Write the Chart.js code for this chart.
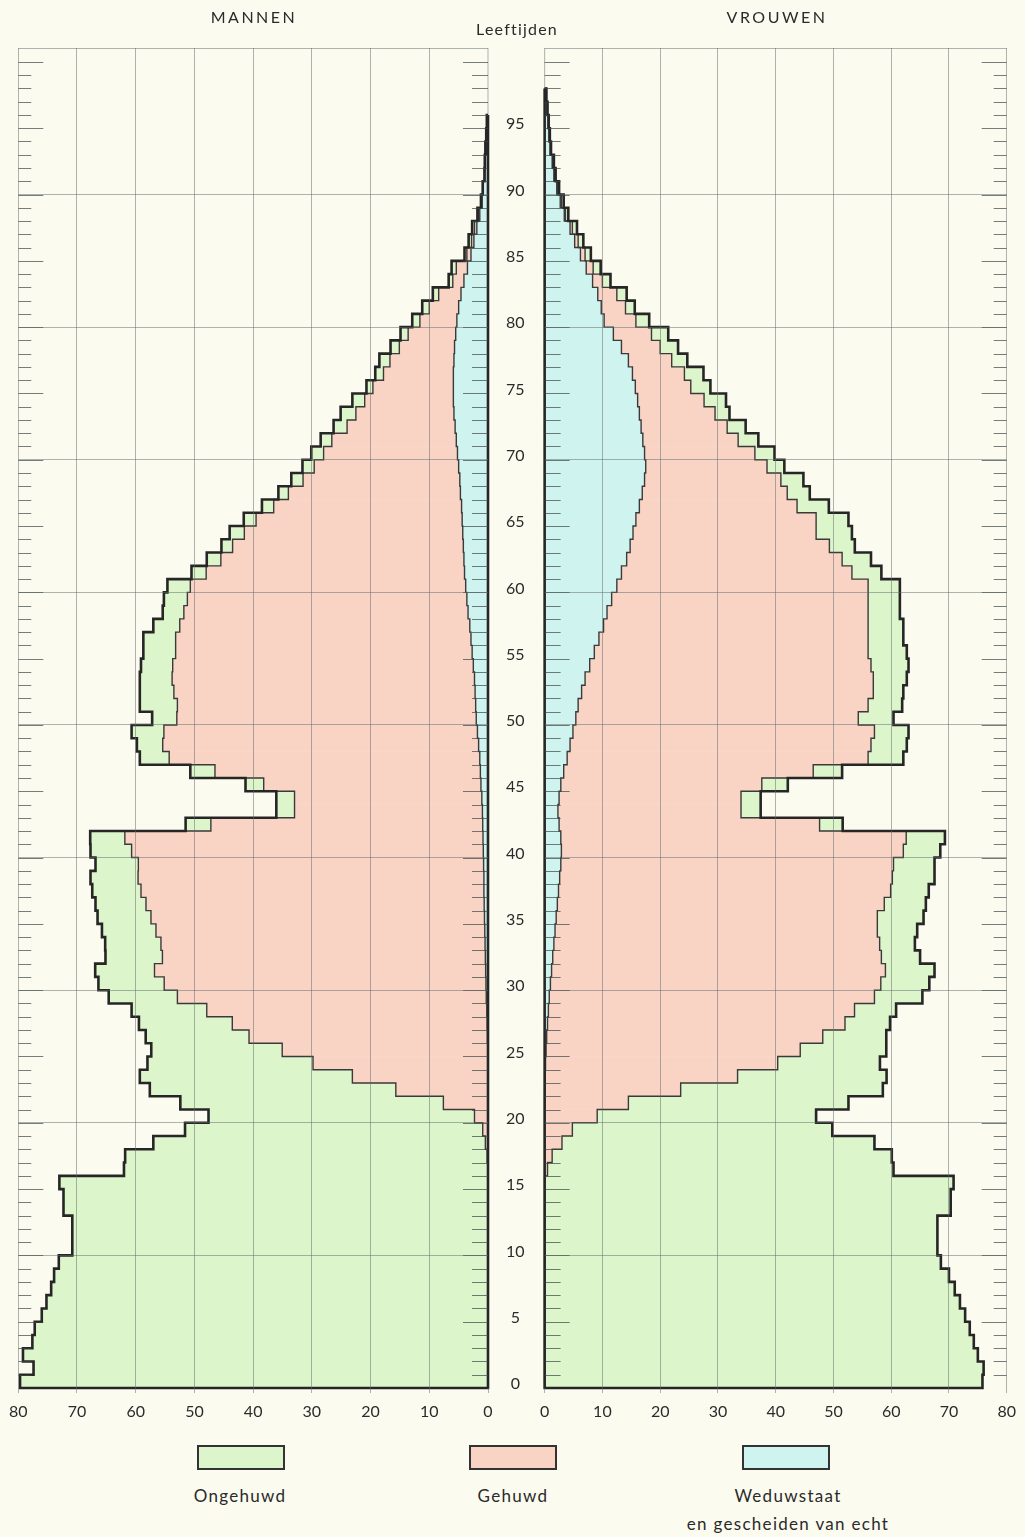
<!DOCTYPE html>
<html><head><meta charset="utf-8">
<script src="https://cdn.jsdelivr.net/npm/chart.js@4.4.1/dist/chart.umd.min.js"></script>
<style>
html,body{margin:0;padding:0;background:#fcfbf0;}
body{width:1025px;height:1537px;position:relative;overflow:hidden;font-family:Lato,'DejaVu Sans',sans-serif;color:#2a2a2a;}
canvas{position:absolute;top:0;}
#cl{left:0;}
#cr{left:531px;}
.t{position:absolute;transform:translateX(-50%);white-space:nowrap;line-height:20px;}
.box{position:absolute;top:1445px;width:88px;height:25px;border:2px solid #333;box-sizing:border-box;}
</style></head><body>
<canvas id="cl" width="541" height="1430"></canvas>
<canvas id="cr" width="494" height="1430"></canvas>
<div class="t" style="left:254px;top:7px;font-size:16px;letter-spacing:2.5px">MANNEN</div>
<div class="t" style="left:777px;top:7px;font-size:16px;letter-spacing:2.5px">VROUWEN</div>
<div class="t" style="left:517px;top:19px;font-size:16px;letter-spacing:1.2px">Leeftijden</div>
<div class="box" style="left:197px;background:#ddf5cb"></div>
<div class="box" style="left:469px;background:#f9d4c5"></div>
<div class="box" style="left:742px;background:#cff3ee"></div>
<div class="t" style="left:240px;top:1486px;font-size:17px;letter-spacing:1.3px">Ongehuwd</div>
<div class="t" style="left:513px;top:1486px;font-size:17px;letter-spacing:1.3px">Gehuwd</div>
<div class="t" style="left:788px;top:1486px;font-size:17px;letter-spacing:1.3px">Weduwstaat</div>
<div class="t" style="left:788px;top:1514px;font-size:17px;letter-spacing:1.3px">en gescheiden van echt</div>
<script>
// ---- data: index = age in years (0,1,2,...) ; values in thousands ----
const tickLabels = [0,5,10,15,20,25,30,35,40,45,50,55,60,65,70,75,80,85,90,95];
const seriesNames = ['Ongehuwd','Gehuwd','Weduwstaat en gescheiden van echt'];

const menSingle = [
 79.7,77.4,79.2,77.6,77.2,76.0,75.2,74.4,73.9,73.1,
 70.8,70.8,70.8,72.3,72.3,73.0,61.95,61.65,56.55,50.7,
 45.3,44.8,41.9,36.2,28.2,22.3,17.6,15.9,12.8,11.7,
 11.2,10.1,9.7,9.5,9.2,9.1,8.6,8.3,8.1,7.3,
 7.0,5.9,4.3,3.1,3.1,3.1,4.2,5.0,4.4,5.5,
 4.2,6.4,5.8,5.5,5.4,5.5,5.5,4.5,3.6,4.0,
 3.9,2.5,2.4,1.9,2.5,2.1,2.0,1.7,2.0,2.0,
 2.1,1.9,2.3,2.6,2.1,1.1,1.4,1.8,1.5,1.3,
 1.3,1.2,1.0,0.7,0.8,0.4,0.5,0.4,0.2,0.1,
 0.05,0,0.05,0.05,0,0];
const menMarried = [
 0,0,0,0,0,0,0,0,0,0,
 0,0,0,0,0,0,0.05,0.15,0.45,0.9,
 2.3,7.6,15.7,23.1,29.8,35.0,40.6,43.4,47.7,52.6,
 54.8,56.4,55.0,55.2,56.0,56.8,57.6,58.4,58.9,58.8,
 59.9,61.0,46.3,32.0,31.9,37.0,45.2,52.9,53.8,53.4,
 51.0,50.8,51.3,51.5,51.2,50.5,50.3,49.4,48.4,47.6,
 46.9,44.0,41.4,39.3,37.2,35.1,32.0,29.3,26.7,24.6,
 22.8,21.2,18.4,16.7,15.1,13.7,11.9,10.9,9.4,8.1,
 6.3,5.0,3.8,1.9,1.9,0.7,0.4,0.4,0.2,0.1,
 0.05,0.05,0.05,0.05,0.05,0];
const menWidowed = [
 0,0,0,0,0,0,0,0,0,0,
 0,0,0,0,0,0,0,0,0,0,
 0,0,0,0,0,0.05,0.1,0.15,0.2,0.3,
 0.35,0.4,0.45,0.5,0.55,0.6,0.65,0.7,0.7,0.75,
 0.8,0.85,0.9,0.95,1.05,1.2,1.3,1.4,1.6,1.8,
 2.0,2.1,2.2,2.3,2.5,2.7,2.9,3.1,3.4,3.6,
 3.8,4.0,4.1,4.2,4.3,4.4,4.5,4.7,4.8,5.0,
 5.2,5.4,5.6,5.8,5.9,5.9,5.9,5.8,5.7,5.5,
 5.3,5.0,4.6,4.1,3.5,2.9,2.4,1.9,1.4,1.0,
 0.8,0.55,0.45,0.35,0.25,0.2];

const womenSingle = [
 75.8,76.0,75.0,74.3,73.6,72.8,71.9,71.0,70.0,68.6,
 68.0,68.0,68.0,70.3,70.3,70.8,59.9,58.8,54.1,45.0,
 37.9,38.1,35.0,25.8,17.7,14.9,11.0,7.8,7.2,8.3,
 8.4,8.5,6.7,6.1,6.9,8.0,7.2,6.6,7.3,7.1,
 6.4,6.7,4.0,3.4,3.4,4.5,5.0,6.1,6.2,5.9,
 6.1,5.9,5.2,5.8,6.5,6.7,6.1,6.1,5.5,5.5,
 5.5,5.1,5.0,4.4,6.2,5.6,5.5,3.9,3.9,3.0,
 3.4,3.5,3.2,2.5,3.8,3.4,3.3,2.7,3.1,2.9,
 2.3,1.6,1.7,1.4,1.3,1.0,0.9,0.8,0.5,0.4,
 0.3,0.2,0.2,0.1,0.1,0.05,0.05,0];
const womenMarried = [
 0,0,0,0,0,0,0,0,0,0,
 0,0,0,0,0,0,0.5,1.3,3.0,4.8,
 9.1,14.5,23.5,33.3,40.2,44.0,47.8,51.5,53.0,56.3,
 57.2,57.8,56.9,56.4,55.8,55.6,56.6,57.5,57.6,57.6,
 59.2,59.8,45.1,31.7,31.5,34.8,43.2,52.1,52.1,52.2,
 48.9,50.2,50.5,49.9,48.7,47.4,46.6,45.8,45.2,44.4,
 43.5,39.9,37.3,34.5,31.7,31.2,27.3,25.1,23.6,21.0,
 19.1,16.5,14.9,13.1,11.5,9.6,9.0,7.5,6.7,6.6,
 5.5,4.2,3.3,1.7,1.2,0.8,0.6,0.4,0.2,0.2,
 0.1,0.1,0.1,0.05,0.05,0.05,0,0];
const womenWidowed = [
 0,0,0,0,0,0,0,0,0,0,
 0,0,0,0,0,0,0,0,0,0,
 0,0,0.05,0.1,0.15,0.25,0.35,0.5,0.65,0.8,
 1.0,1.2,1.4,1.6,1.8,2.0,2.2,2.4,2.6,2.8,
 2.9,2.8,2.5,2.3,2.5,2.8,3.3,3.9,4.4,4.9,
 5.4,5.8,6.4,7.0,7.8,8.6,9.4,10.2,10.8,11.6,
 12.5,13.3,14.2,14.8,15.3,15.8,16.4,16.9,17.3,17.5,
 17.3,17.0,16.7,16.4,16.1,15.7,15.2,14.5,13.3,11.9,
 10.3,9.8,9.2,8.3,7.2,6.2,5.2,4.4,3.4,2.7,
 2.1,1.6,1.3,0.95,0.75,0.6,0.45,0.3];

// ---- styling ----
const FONT = 'Lato';
const GREEN = '#ddf5cb', PINK = '#f9d4c5', BLUE = '#cff3ee';
const GRID = 'rgba(95,105,105,0.5)';
const TICK = 'rgba(60,70,70,0.7)';
const OUTLINE = '#262626', INNER = '#3a3a3a';
const AGE_MAX = 101.05;
Chart.defaults.font.family = FONT;

function stepPath(vals, closed) {
  const N = vals.length - 1;
  const pts = [{x: 0, y: N + 1}, {x: vals[N], y: N + 1}];
  for (let k = N; k >= 1; k--) pts.push({x: vals[k - 1], y: k});
  pts.push({x: closed ? 0 : vals[0], y: 0});
  if (closed) pts.push({x: 0, y: N + 1});
  return pts;
}
function lineDS(pts, w, col, stack, order) {
  return {type: 'line', data: pts, indexAxis: 'y', stack, order, stepped: 'after',
    borderColor: col, borderWidth: w, backgroundColor: 'transparent', fill: false,
    pointRadius: 0, pointHoverRadius: 0, tension: 0, clip: false,
    borderJoinStyle: 'miter', borderCapStyle: 'butt'};
}
function barDS(label, vals, col) {
  return {type: 'bar', label, data: vals.map((v, i) => ({x: v, y: i + 0.5})), indexAxis: 'y',
    backgroundColor: col, borderWidth: 0, barPercentage: 1, categoryPercentage: 1, order: 2};
}
function buildDatasets(W, M, U) {
  const c1 = W.slice();
  const c2 = W.map((w, i) => w + M[i]);
  const tot = c2.map((c, i) => c + U[i]);
  return [
    lineDS(stepPath(tot, true), 2.6, OUTLINE, 'o1', 0),
    lineDS(stepPath(c2, false), 1.4, INNER, 'o2', 1),
    lineDS(stepPath(c1, false), 1.4, INNER, 'o3', 1),
    barDS(seriesNames[2], W, BLUE),
    barDS(seriesNames[1], M, PINK),
    barDS(seriesNames[0], U, GREEN)
  ];
}

const frameTicks = {
  id: 'frameTicks',
  beforeDatasetsDraw(chart) {
    const {ctx, chartArea: ca, scales: {x}} = chart;
    const xi = x.getPixelForValue(0), xo = x.getPixelForValue(80);
    ctx.save(); ctx.strokeStyle = GRID; ctx.lineWidth = 1;
    ctx.beginPath();
    ctx.moveTo(xo, ca.top + 0.5); ctx.lineTo(xi, ca.top + 0.5);
    ctx.moveTo(xi, ca.top); ctx.lineTo(xi, ca.bottom);
    ctx.stroke(); ctx.restore();
  },
  afterDatasetsDraw(chart) {
    const {ctx, scales: {x, y}} = chart;
    const xi = x.getPixelForValue(0), xo = x.getPixelForValue(80);
    const d = Math.sign(xo - xi);
    ctx.save(); ctx.strokeStyle = TICK; ctx.lineWidth = 1;
    ctx.beginPath();
    for (let a = 1; a <= 100; a++) {
      const py = Math.round(y.getPixelForValue(a)) + 0.5;
      const lg = a % 5 === 0;
      ctx.moveTo(xi, py); ctx.lineTo(xi + d * (lg ? 25 : 16), py);
      ctx.moveTo(xo, py); ctx.lineTo(xo - d * (lg ? 25 : 13), py);
    }
    ctx.stroke(); ctx.restore();
  }
};

function makeChart(id, W, M, U, isLeft) {
  const decade = c => c.tick && c.tick.value % 10 === 0 && c.tick.value > 0 && c.tick.value < 100;
  return new Chart(document.getElementById(id), {
    type: 'bar',
    data: {datasets: buildDatasets(W, M, U)},
    plugins: [frameTicks],
    options: {
      indexAxis: 'y', responsive: false, animation: false, devicePixelRatio: 1,
      events: [],
      layout: {padding: isLeft ? {left: 18, right: 0, top: 48, bottom: 0} : {left: 10, right: 15, top: 48, bottom: 0}},
      plugins: {legend: {display: false}, tooltip: {enabled: false}},
      scales: {
        x: {
          type: 'linear', min: 0, max: 80, reverse: isLeft, stacked: true,
          afterFit: s => { s.height = 42; },
          ticks: {stepSize: 10, autoSkip: false, maxRotation: 0, padding: 9,
            font: {size: 16, family: FONT}, color: '#2b2b2b'},
          grid: {z: 1, offset: false, lineWidth: 1, drawTicks: true, tickLength: 5, tickColor: GRID,
            color: c => (c.tick && c.tick.value === 0) ? 'rgba(0,0,0,0)' : GRID},
          border: {display: false}
        },
        y: {
          type: 'linear', min: 0, max: AGE_MAX, stacked: true, offset: false,
          position: isLeft ? 'right' : 'left',
          afterFit: s => { s.width = isLeft ? 53 : 0; },
          afterBuildTicks: s => { s.ticks = tickLabels.map(v => ({value: v})).concat([{value: 100}]); },
          ticks: {display: isLeft, autoSkip: false, crossAlign: 'center', padding: 18, labelOffset: -4,
            font: {size: 16, family: FONT}, color: '#2b2b2b',
            callback: v => (tickLabels.includes(v) ? String(v) : '')},
          grid: {z: 1, offset: false, lineWidth: 1, drawTicks: false, color: c => decade(c) ? GRID : 'rgba(0,0,0,0)'},
          border: {display: false}
        }
      }
    }
  });
}

makeChart('cl', menWidowed, menMarried, menSingle, true);
makeChart('cr', womenWidowed, womenMarried, womenSingle, false);
</script>
</body></html>
